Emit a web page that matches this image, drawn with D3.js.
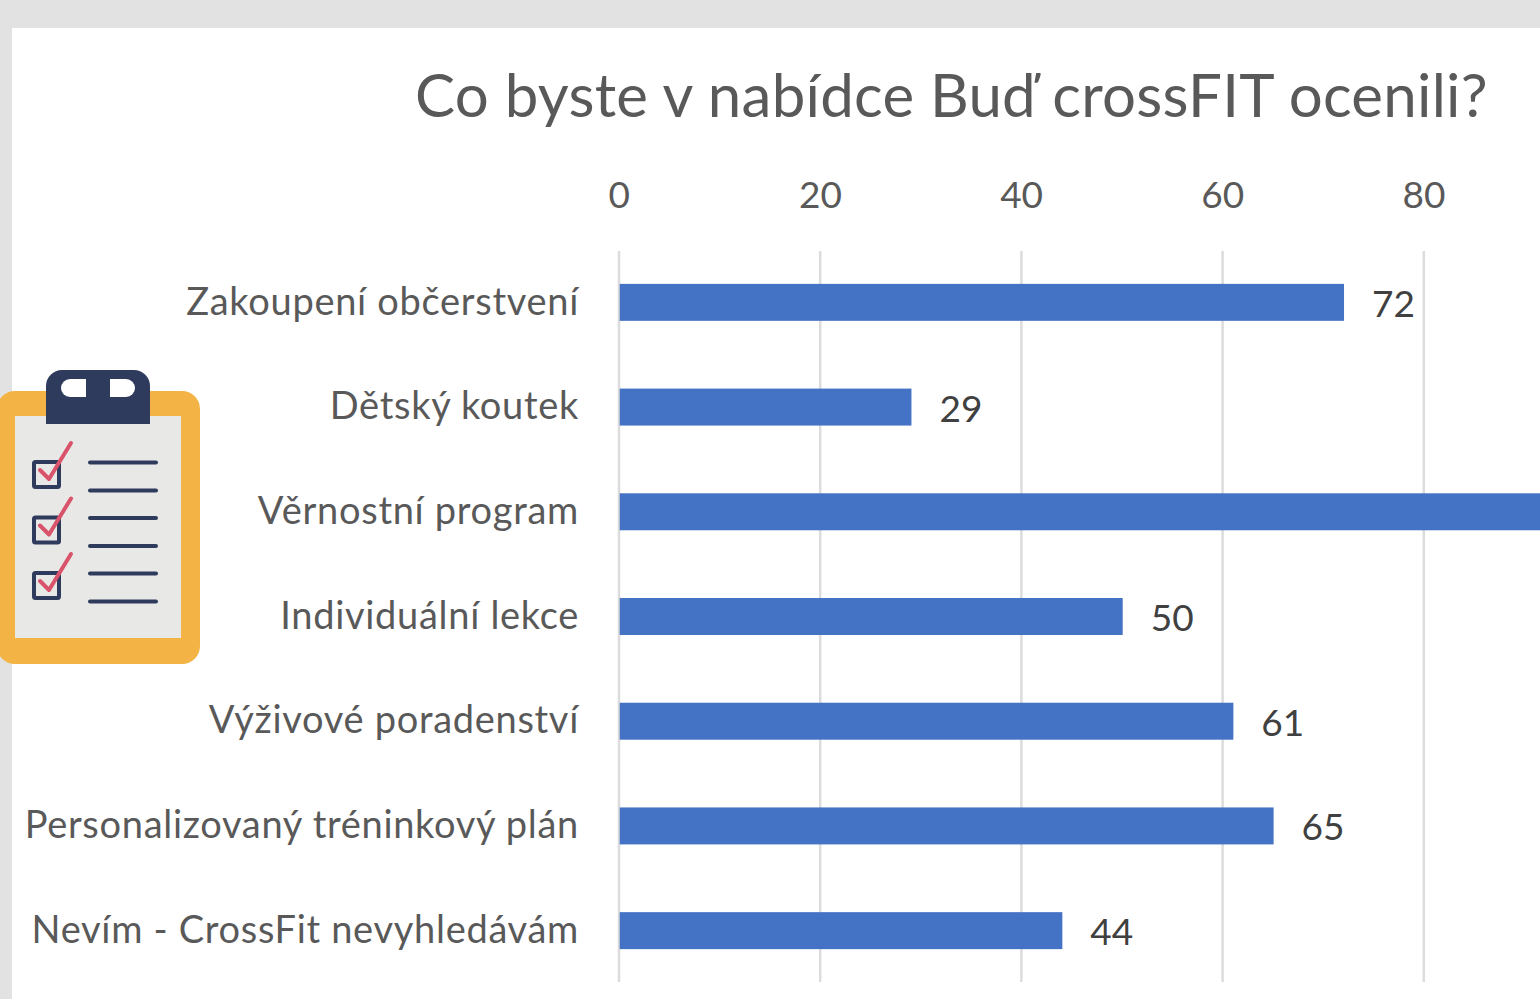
<!DOCTYPE html>
<html lang="cs">
<head>
<meta charset="utf-8">
<title>Co byste v nabídce Buď crossFIT ocenili?</title>
<script src="https://cdn.jsdelivr.net/npm/d3@7/dist/d3.min.js"></script>
<style>
html,body{margin:0;padding:0;background:#e2e2e2;overflow:hidden}
svg{display:block}
text{font-family:Lato,"Open Sans",sans-serif}
</style>
</head>
<body>
<svg id="chart" width="1540" height="999"></svg>
<script>
const chartTitle = "Co byste v nabídce Buď crossFIT ocenili?";
const categories = ["Zakoupení občerstvení","Dětský koutek","Věrnostní program","Individuální lekce","Výživové poradenství","Personalizovaný tréninkový plán","Nevím - CrossFit nevyhledávám"];
// The third bar runs off the picture, so its value is an estimate (its label is not visible).
const seriesValues = [72,29,95,50,61,65,44];
const tickValues = [0,20,40,60,80];

const W = 1540, H = 999;
const svg = d3.select("#chart");

svg.append("rect").attr("width",W).attr("height",H).attr("fill","#e2e2e2");
svg.append("rect").attr("x",12).attr("y",28).attr("width",W-12).attr("height",H-28).attr("fill","#ffffff");

const x = d3.scaleLinear().domain([0,100]).range([619.7,1625.7]);
const gap = 0.647;
const y = d3.scaleBand().domain(categories).range([250,983]).paddingInner(gap).paddingOuter(gap/2);

// Gridlines
svg.append("g").attr("transform","translate(-0.7,0)").selectAll("line").data(tickValues).join("line")
  .attr("x1",d=>x(d)).attr("x2",d=>x(d)).attr("y1",251).attr("y2",982)
  .attr("stroke","#dcdcdc").attr("stroke-width",2.5);

// Bars
svg.append("g").selectAll("rect").data(seriesValues).join("rect")
  .attr("x",x(0)).attr("y",(d,i)=>y(categories[i]))
  .attr("width",d=>x(d)-x(0)).attr("height",y.bandwidth())
  .attr("fill","#4472c4");

// X axis
const xAxis = svg.append("g").attr("transform","translate(-1,208)")
  .call(d3.axisTop(x).tickValues(tickValues).tickSize(0).tickPadding(0));
xAxis.select(".domain").remove();
xAxis.selectAll("text").attr("font-size",37).attr("fill","#595959").attr("font-family","Lato");

// Y axis
const yAxis = svg.append("g").attr("transform","translate(579,0)")
  .call(d3.axisLeft(y).tickSize(0).tickPadding(0));
yAxis.select(".domain").remove();
yAxis.selectAll("text").attr("font-size",38).attr("letter-spacing",0.7).attr("fill","#595959").attr("font-family","Lato");

// Data labels (only those inside the picture)
svg.append("g").selectAll("text")
  .data(seriesValues.map((v,i)=>({v,c:categories[i]})).filter(d=>x(d.v)+70<W))
  .join("text")
  .attr("x",d=>x(d.v)+28).attr("y",d=>y(d.c)+y.bandwidth()/2+1.5)
  .attr("dy","0.35em").attr("font-size",37).attr("fill","#404040").text(d=>d.v);

// Title
svg.append("text").attr("x",951.5).attr("y",117).attr("text-anchor","middle")
  .attr("font-size",60).attr("letter-spacing",0.26).attr("fill","#595959").text(chartTitle);

// Clipboard illustration
const clip = svg.append("g");
clip.append("rect").attr("x",-3).attr("y",391).attr("width",203).attr("height",273).attr("rx",18).attr("fill","#f4b345");
clip.append("rect").attr("x",15).attr("y",416).attr("width",166).attr("height",222).attr("fill","#e8e8e6");
clip.append("path").attr("d","M46 424V386a16 16 0 0 1 16-16H134a16 16 0 0 1 16 16V424Z").attr("fill","#2f3b5c");
clip.append("path").attr("d","M86 379H70a9 9 0 0 0 0 18H86Z").attr("fill","#ffffff");
clip.append("path").attr("d","M110 379H126a9 9 0 0 1 0 18H110Z").attr("fill","#ffffff");
const rowOffsets = [0,55.5,111];
rowOffsets.forEach(o=>{
  const g = clip.append("g").attr("transform",`translate(0,${o})`);
  g.append("rect").attr("x",34).attr("y",462).attr("width",25).attr("height",25).attr("rx",1.5)
    .attr("fill","none").attr("stroke","#2f3b5c").attr("stroke-width",4);
  g.append("path").attr("d","M40 470L49 479L71 443").attr("fill","none").attr("stroke","#d9536a")
    .attr("stroke-width",4).attr("stroke-linecap","round").attr("stroke-linejoin","round");
  [462.5,490.5].forEach(ly=>g.append("line").attr("x1",90).attr("x2",156).attr("y1",ly).attr("y2",ly)
    .attr("stroke","#2f3b5c").attr("stroke-width",4).attr("stroke-linecap","round"));
});
</script>
</body>
</html>
